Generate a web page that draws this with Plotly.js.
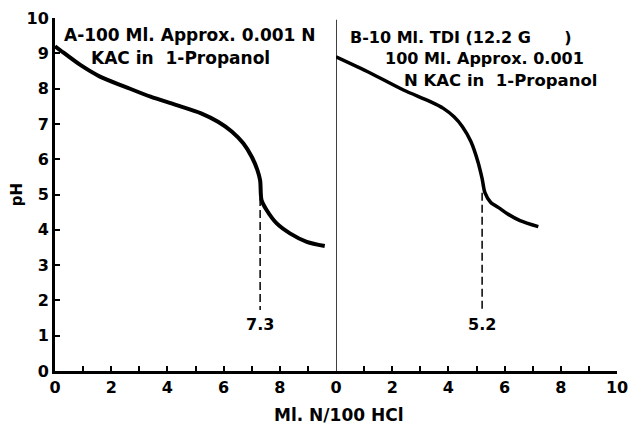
<!DOCTYPE html>
<html><head><meta charset="utf-8">
<script src="https://cdn.plot.ly/plotly-3.0.1.min.js"></script>
<style>html,body{margin:0;padding:0;background:#fff}#chart{width:631px;height:426px}</style>
</head><body><div id="chart"></div>
<script>
// Curve A: 100 ml approx 0.001 N KAC in 1-propanol
const xA = [0, 0.2, 0.9, 1.6, 2.5, 3.4, 4.3, 5.2, 5.8, 6.3, 6.7, 7.0, 7.2, 7.3, 7.35, 7.53, 7.89, 8.36, 8.96, 9.6];
const yA = [9.2, 9.08, 8.67, 8.34, 8.05, 7.77, 7.54, 7.3, 7.06, 6.78, 6.45, 6.07, 5.7, 5.4, 4.84, 4.56, 4.18, 3.9, 3.66, 3.54];
// Curve B: 10 ml TDI + 100 ml KAC
const xB = [0, 1.2, 2.4, 3.3, 3.82, 4.2, 4.5, 4.8, 5.05, 5.2, 5.3, 5.5, 5.84, 6.07, 6.55, 7.2];
const yB = [8.9, 8.45, 7.96, 7.65, 7.44, 7.2, 6.92, 6.5, 5.93, 5.45, 5.05, 4.78, 4.6, 4.47, 4.26, 4.09];
// Equivalence points
const eqA = 7.3, eqB = 5.2;
const eqAtop = 4.9, eqBtop = 5.05, eqBottom = 1.73, eqLabelY = 1.33;
const yTicks = [0,1,2,3,4,5,6,7,8,9,10];
const yTickText = ["0","1","2","3","4","5","6","7","8","9","10"];
const xTicksA = [0,1,2,3,4,5,6,7,8,9];
const xTextA = ["0","","2","","4","","6","","8",""];
const xTicksB = [0,1,2,3,4,5,6,7,8,9,10];
const xTextB = ["0","","2","","4","","6","","8","","10"];

const FONT = "DejaVu Sans, sans-serif";
const f = (s) => ({family: FONT, size: s, color: '#000', weight: 'bold'});
const traces = [
  {x: xA, y: yA, xaxis: 'x', yaxis: 'y', mode: 'lines', line: {color: '#000', width: 4, shape: 'spline', smoothing: 0.8}, hoverinfo: 'skip'},
  {x: xB, y: yB, xaxis: 'x2', yaxis: 'y', mode: 'lines', line: {color: '#000', width: 3.5, shape: 'spline', smoothing: 0.8}, hoverinfo: 'skip'},
  {x: [eqA, eqA], y: [eqAtop, eqBottom], xaxis: 'x', yaxis: 'y', mode: 'lines', line: {color: '#000', width: 1.5, dash: '8px,4px'}, hoverinfo: 'skip'},
  {x: [eqB, eqB], y: [eqBtop, eqBottom], xaxis: 'x2', yaxis: 'y', mode: 'lines', line: {color: '#000', width: 1.5, dash: '8px,4px'}, hoverinfo: 'skip'}
];
const axBase = {range: [0, 10], showgrid: false, zeroline: false, showline: true, linecolor: '#000', linewidth: 3,
  ticks: 'inside', ticklen: 5, tickwidth: 2, tickcolor: '#000', tickmode: 'array',
  tickfont: f(16), fixedrange: true};
const layout = {
  width: 631, height: 426, showlegend: false,
  margin: {l: 55, r: 14, t: 18, b: 55},
  paper_bgcolor: '#fff', plot_bgcolor: '#fff',
  xaxis: Object.assign({}, axBase, {domain: [0, 0.5], anchor: 'y', tickvals: xTicksA, ticktext: xTextA}),
  xaxis2: Object.assign({}, axBase, {domain: [0.5, 1], anchor: 'y', tickvals: xTicksB, ticktext: xTextB}),
  yaxis: Object.assign({}, axBase, {tickvals: yTicks, ticktext: yTickText, anchor: 'x'}),
  shapes: [
    {type: 'line', xref: 'x2', yref: 'y', x0: 0, x1: 0, y0: 0, y1: 9.95, line: {color: '#000', width: 1.5}}
  ],
  annotations: [
    {xref: 'x', yref: 'y', x: 0.25, y: 9.52, xanchor: 'left', yanchor: 'middle', showarrow: false, text: 'A-100 Ml. Approx. 0.001 N', font: f(17)},
    {xref: 'x', yref: 'y', x: 4.45, y: 8.87, xanchor: 'center', yanchor: 'middle', showarrow: false, text: 'KAC in  1-Propanol', font: f(17)},
    {xref: 'x2', yref: 'y', x: 0.43, y: 9.45, xanchor: 'left', yanchor: 'middle', showarrow: false, text: 'B-10 Ml. TDI (12.2 G      )', font: f(16)},
    {xref: 'x2', yref: 'y', x: 1.67, y: 8.84, xanchor: 'left', yanchor: 'middle', showarrow: false, text: '100 Ml. Approx. 0.001', font: f(16)},
    {xref: 'x2', yref: 'y', x: 2.35, y: 8.22, xanchor: 'left', yanchor: 'middle', showarrow: false, text: 'N KAC in  1-Propanol', font: f(16.5)},
    {xref: 'x', yref: 'y', x: eqA, y: eqLabelY, xanchor: 'center', yanchor: 'middle', showarrow: false, text: String(eqA), font: f(16)},
    {xref: 'x2', yref: 'y', x: eqB, y: eqLabelY, xanchor: 'center', yanchor: 'middle', showarrow: false, text: String(eqB), font: f(16)},
    {xref: 'paper', yref: 'paper', x: 0.505, y: -0.125, xanchor: 'center', yanchor: 'middle', showarrow: false, text: 'Ml. N/100 HCl', font: f(17)},
    {xref: 'paper', yref: 'paper', x: -0.068, y: 0.5, xanchor: 'center', yanchor: 'middle', textangle: -90, showarrow: false, text: 'pH', font: f(15)}
  ]
};
Plotly.newPlot('chart', traces, layout, {displayModeBar: false, staticPlot: true});
</script></body></html>
